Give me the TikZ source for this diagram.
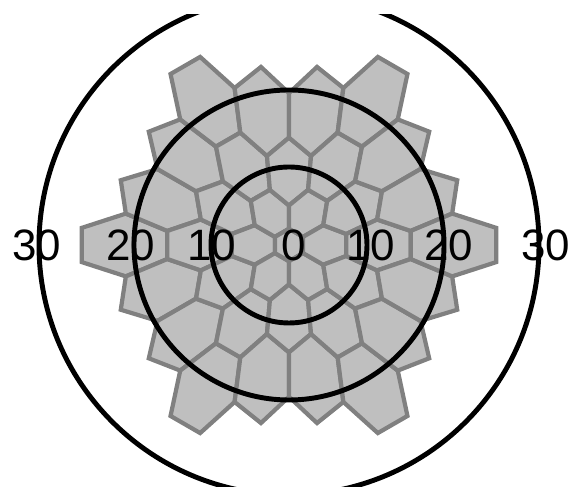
\documentclass[tikz,border=0pt]{standalone}
\usepackage{fontspec}
\setmainfont{Liberation Sans}
\usetikzlibrary{calc}
\colorlet{hexFill}{black!25}
\colorlet{hexEdge}{black!50}

\begin{document}
\begin{tikzpicture}[every node/.style={font=\fontsize{25}{25}\selectfont, inner sep=0pt},
    hexcell/.style={fill=hexFill, draw=hexEdge, line width=2.4pt},
    ring/.style={draw=black, line width=2.8pt}]
    \useasboundingbox (-5.78,-4.84) rectangle (5.76,4.9);
    \coordinate (o) at (0,0);
    \foreach \q in {-3,...,3}{
        \pgfmathtruncatemacro{\rlo}{max(-3,-3-\q)}
        \pgfmathtruncatemacro{\rhi}{min(3,3-\q)}
        \foreach \rr in {\rlo,...,\rhi}{
            \pgfmathsetmacro{\cx}{\q+\rr/2}
            \pgfmathsetmacro{\cy}{\rr*sqrt(3)/2}
            \foreach \k in {0,...,5}{
                \pgfmathsetmacro{\vx}{\cx+cos(30+60*\k)/sqrt(3)}
                \pgfmathsetmacro{\vy}{\cy+sin(30+60*\k)/sqrt(3)}
                \pgfmathsetmacro{\gw}{0.44+0.212*veclen(\vx,\vy)}
                \coordinate (v\k) at (\gw*\vx,\gw*\vy);
            }
            \draw[hexcell] (v0)--(v1)--(v2)--(v3)--(v4)--(v5)--cycle;
        }
    }
    \begin{scope}
        \clip (-5.78,-4.84) rectangle (5.76,4.6);
        \draw[ring] (o) circle (1.56);
        \draw[ring] (o) circle (3.1);
        \draw[ring] (o) circle (5.0);
    \end{scope}
    \node (w30) at (-5.04,0) {30};
    \node (w20) at (-3.16,0) {20};
    \node (w10) at (-1.54,0) {10};
    \node (c0) at (0.1,0) {0};
    \node (e10) at (1.64,0) {10};
    \node (e20) at (3.2,0) {20};
    \node (e30) at (5.14,0) {30};
\end{tikzpicture}
\end{document}
